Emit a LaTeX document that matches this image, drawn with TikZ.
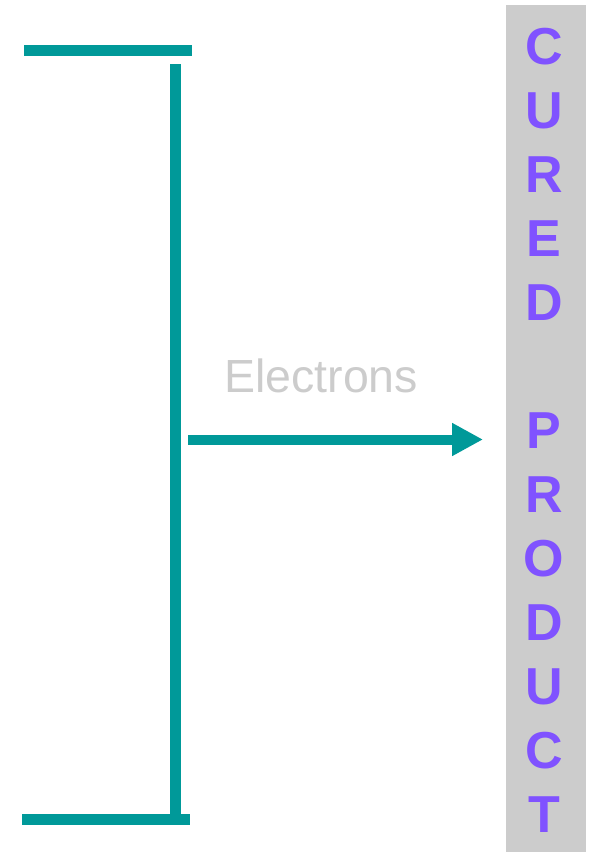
\documentclass[tikz,border=0pt]{standalone}
\usepackage{fontspec}
\setmainfont{Liberation Sans}
\usetikzlibrary{arrows.meta}
\definecolor{teal}{HTML}{009999}
\definecolor{violet}{HTML}{8052FF}
\definecolor{panel}{HTML}{CCCCCC}
\definecolor{label}{HTML}{CCCCCC}
\tikzset{
  bar/.style={draw=teal, line width=11pt},
  beam/.style={draw=teal, line width=10pt, -{Triangle[length=31pt,width=31pt]}},
  letter/.style={text=violet, font=\fontsize{52}{52}\selectfont\bfseries, inner sep=0pt, anchor=base},
}
\begin{document}
\begin{tikzpicture}[x=1pt,y=-1pt]
  \useasboundingbox (0,0) rectangle (594,852);
  % electrode: two plates joined by a vertical rail
  \draw[bar] (24,50.5) -- (192,50.5);
  \draw[bar] (22,819.5) -- (190,819.5);
  \draw[bar] (175.5,64) -- (175.5,814);
  % product column
  \fill[panel] (506,5) rectangle (586,852);
  \foreach \ch [count=\i from 0] in {C,U,R,E,D,{},P,R,O,D,U,C,T}{
    \node[letter] (l\i) at (544,{64.5+64*\i}) {\ch};
  }
  % electron beam
  \coordinate (src) at (188,439.5);
  \coordinate (dst) at (483,439.5);
  \draw[beam] (src) -- (dst);
  \node[text=label, font=\fontsize{46.5}{46.5}\selectfont, inner sep=0pt, anchor=base west] (elec) at (224,392.7) {Electrons};
\end{tikzpicture}
\end{document}
